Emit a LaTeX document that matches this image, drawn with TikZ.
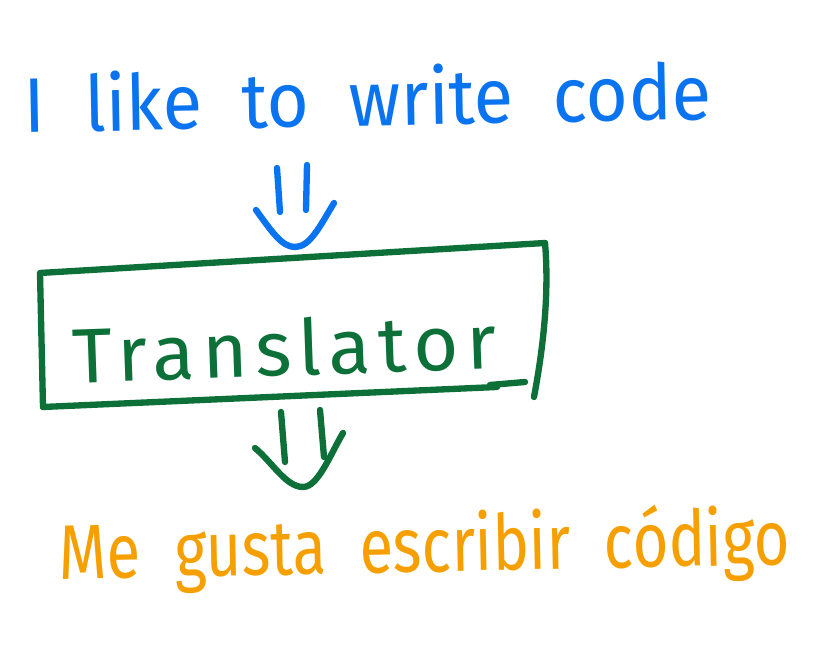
\documentclass[tikz,border=0pt]{standalone}
\usepackage{fontspec}
\setmainfont{Fira Sans}
\usetikzlibrary{positioning}

\definecolor{penblue}{RGB}{10,115,240}
\definecolor{pengreen}{RGB}{12,112,56}
\definecolor{penorange}{RGB}{245,160,0}
\tikzset{
  pen/.style={line width=1.8pt, line cap=round, line join=round},
  scrawl/.style={inner sep=0pt, anchor=base, font=\fontsize{22}{26}\selectfont}
}
\newcommand{\spreadline}[2]{\resizebox{#1}{\height}{\spaceskip=0.55em\relax #2}}

\begin{document}
\begin{tikzpicture}[x=0.01cm,y=-0.01cm]
        \useasboundingbox (0,0) rectangle (829,649);
        % the three lines of text
        \node[scrawl, penblue, rotate=1.1] (src) at (368,126) {\spreadline{6.87cm}{I like to write code}};
        \node[scrawl, pengreen, rotate=2, font=\fontsize{22}{26}\selectfont\addfontfeatures{LetterSpace=10}] (trans) at (285,376) {Translator};
        \node[scrawl, penorange, rotate=1.2] (dst) at (425,572) {\spreadline{7.3cm}{Me gusta escribir código}};
        % box round the translator
        \coordinate (nw) at (40,273);
        \coordinate (ne) at (545,243);
        \coordinate (se) at (534,397);
        \coordinate (sw) at (43,407);
        \draw[pen, pengreen] (sw) -- (nw) -- (ne);
        \draw[pen, pengreen] (ne) .. controls (550,300) and (541,360) .. (se);
        \draw[pen, pengreen] (sw) -- (497,387);
        \draw[pen, pengreen] (490,385) -- (525,382);
        % arrow into the box
        \coordinate (intip) at (295,247);
        \draw[pen, penblue] (277,168) -- (280,212);
        \draw[pen, penblue] (307,165) -- (306,210);
        \draw[pen, penblue] (256,210) .. controls (272,232) and (282,247) .. (intip) .. controls (310,247) and (320,226) .. (334,203);
        % arrow out of the box
        \coordinate (outtip) at (303,487);
        \draw[pen, pengreen] (281,412) -- (285,462);
        \draw[pen, pengreen] (320,410) -- (324,457);
        \draw[pen, pengreen] (255,448) .. controls (272,462) and (286,487) .. (outtip) .. controls (318,487) and (330,455) .. (343,433);
\end{tikzpicture}
\end{document}
